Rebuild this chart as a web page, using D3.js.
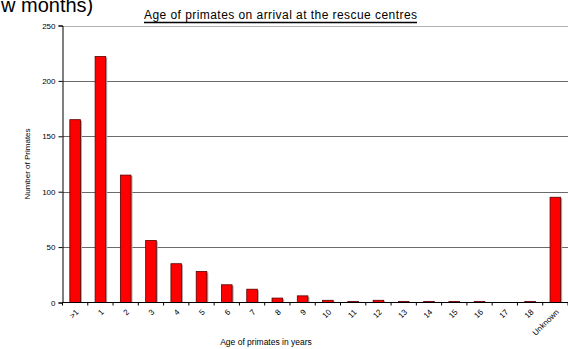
<!DOCTYPE html>
<html>
<head>
<meta charset="utf-8">
<script src="https://cdn.jsdelivr.net/npm/d3@7"></script>
<style>
  html, body { margin: 0; padding: 0; background: #fff; overflow: hidden; }
  svg { display: block; font-family: "Liberation Sans", Arial, sans-serif; }
</style>
</head>
<body>
<div id="chart"></div>
<script>
// categories and counts
const ages = ['>1', '1', '2', '3', '4', '5', '6', '7', '8', '9', '10',
  '11', '12', '13', '14', '15', '16', '17', '18', 'Unknown'];
const counts = [165, 222, 115, 56, 35, 28, 16, 12, 4, 6, 2,
  1, 2, 1, 1, 1, 1, 0, 1, 95];
const yTicks = [0, 50, 100, 150, 200, 250];

const width = 568, height = 349;
const plotLeft = 62.5, plotRight = 568, plotTop = 25.5, plotBottom = 302.5;

const svg = d3.select('#chart').append('svg')
  .attr('width', width)
  .attr('height', height);

const x = d3.scaleBand()
  .domain(ages)
  .range([plotLeft, plotRight])
  .paddingInner(0.58)
  .paddingOuter(0.29);

const y = d3.scaleLinear()
  .domain([0, 250])
  .range([plotBottom, plotTop]);

// cropped heading from the page above the chart
svg.append('text')
  .attr('x', 1)
  .attr('y', 12)
  .attr('font-size', 20)
  .attr('fill', '#000')
  .text('w months)');

// gridlines
svg.append('g')
  .selectAll('line')
  .data(yTicks.filter(d => d > 0))
  .enter()
  .append('line')
  .attr('x1', plotLeft)
  .attr('x2', plotRight)
  .attr('y1', d => Math.round(y(d)) + 0.5)
  .attr('y2', d => Math.round(y(d)) + 0.5)
  .attr('stroke', d => d === 250 ? '#b0b0b0' : '#6a6a6a')
  .attr('stroke-width', 1);

// bar shadows then bars
const data = ages.map((a, i) => ({ age: a, n: counts[i] }));

svg.append('g')
  .selectAll('rect')
  .data(data.filter(d => d.n > 0))
  .enter()
  .append('rect')
  .attr('x', d => x(d.age) + 1.5)
  .attr('y', d => y(d.n) + 1)
  .attr('width', x.bandwidth())
  .attr('height', d => plotBottom - y(d.n) - 1)
  .attr('fill', '#a8a8a8');

svg.append('g')
  .selectAll('rect')
  .data(data.filter(d => d.n > 0))
  .enter()
  .append('rect')
  .attr('x', d => x(d.age))
  .attr('y', d => y(d.n))
  .attr('width', x.bandwidth())
  .attr('height', d => plotBottom - y(d.n))
  .attr('fill', '#ff0000')
  .attr('stroke', '#5a0000')
  .attr('stroke-width', 0.8);

// y axis
const yAxis = svg.append('g')
  .attr('transform', `translate(${plotLeft},0)`)
  .call(d3.axisLeft(y).tickValues(yTicks).tickSize(4).tickPadding(3));
yAxis.select('.domain').attr('stroke', '#000');
yAxis.selectAll('.tick line').attr('stroke', '#000');
yAxis.selectAll('.tick text')
  .attr('font-size', 8)
  .attr('font-family', '"Liberation Sans", Arial, sans-serif')
  .attr('fill', '#000');

// x axis: ticks sit on band boundaries
const xAxis = svg.append('g')
  .attr('transform', `translate(0,${plotBottom})`);
xAxis.append('line')
  .attr('x1', plotLeft).attr('x2', plotRight)
  .attr('y1', 0).attr('y2', 0)
  .attr('stroke', '#000');
const step = x.step();
xAxis.selectAll('line.tk')
  .data(d3.range(ages.length + 1))
  .enter()
  .append('line')
  .attr('class', 'tk')
  .attr('x1', i => x(ages[0]) - x.paddingOuter() * step + i * step)
  .attr('x2', i => x(ages[0]) - x.paddingOuter() * step + i * step)
  .attr('y1', 0)
  .attr('y2', 3)
  .attr('stroke', '#000');

xAxis.selectAll('text')
  .data(ages)
  .enter()
  .append('text')
  .attr('transform', d => `translate(${x(d) + x.bandwidth() / 2 + 4},${10}) rotate(-45)`)
  .attr('text-anchor', 'end')
  .attr('font-size', 8)
  .attr('fill', '#000')
  .text(d => d);

// titles
const title = svg.append('text')
  .attr('x', 144)
  .attr('y', 19)
  .attr('font-size', 12)
  .attr('textLength', 273)
  .attr('lengthAdjust', 'spacing')
  .attr('fill', '#000')
  .text('Age of primates on arrival at the rescue centres');
svg.append('line')
  .attr('x1', 144).attr('x2', 417)
  .attr('y1', 22.5).attr('y2', 22.5)
  .attr('stroke', '#000')
  .attr('stroke-width', 1.6);

svg.append('text')
  .attr('x', 266)
  .attr('y', 345)
  .attr('text-anchor', 'middle')
  .attr('font-size', 8.5)
  .attr('fill', '#000')
  .text('Age of primates in years');

svg.append('text')
  .attr('transform', `translate(30,${(plotTop + plotBottom) / 2}) rotate(-90)`)
  .attr('text-anchor', 'middle')
  .attr('font-size', 8)
  .attr('fill', '#000')
  .text('Number of Primates');
</script>
</body>
</html>
